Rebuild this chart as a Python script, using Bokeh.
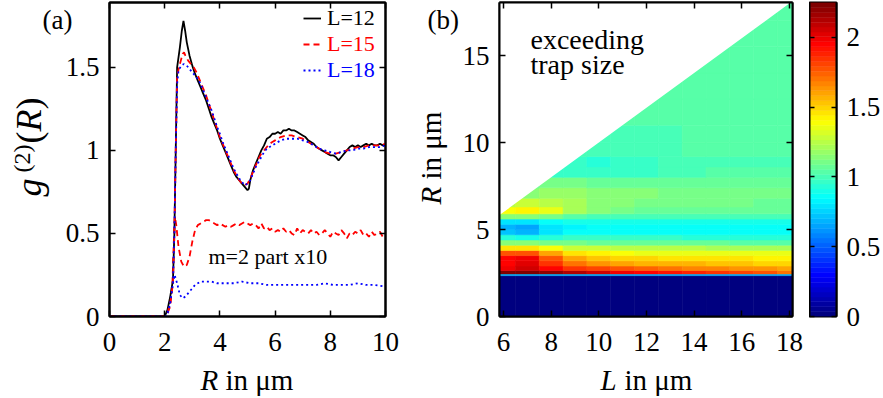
import numpy as np
from bokeh.plotting import figure
from bokeh.models import (Range1d, LinearAxis, FixedTicker, Label, Legend, LegendItem, GridBox,
                          LinearColorMapper, ColumnDataSource, NumeralTickFormatter,
                          CustomJSTickFormatter)
from bokeh.embed import file_html
from bokeh.resources import INLINE

SERIF = "Liberation Serif"

# ---------------- panel (a): g2(R) ----------------
CURVE_L12 = [(0, 0), (1, 0), (2.0, 0), (2.1, 0.04), (2.2, 0.12), (2.3, 0.22), (2.35, 0.5), (2.4, 1.0),
             (2.45, 1.5), (2.55, 1.62), (2.62, 1.72), (2.68, 1.78), (2.74, 1.72), (2.8, 1.65), (2.9, 1.57),
             (3.0, 1.51), (3.1, 1.46), (3.2, 1.42), (3.3, 1.38), (3.4, 1.34), (3.5, 1.30), (3.6, 1.25),
             (3.7, 1.20), (3.8, 1.16), (3.9, 1.12), (4.0, 1.07), (4.1, 1.03), (4.2, 0.99), (4.3, 0.95),
             (4.4, 0.91), (4.5, 0.87), (4.6, 0.84), (4.7, 0.82), (4.8, 0.80), (4.9, 0.78), (5.0, 0.76),
             (5.05, 0.77), (5.1, 0.82), (5.2, 0.88), (5.3, 0.92), (5.4, 0.96), (5.5, 1.0), (5.6, 1.03),
             (5.7, 1.07), (5.8, 1.08), (5.9, 1.10), (6.0, 1.10), (6.1, 1.11), (6.2, 1.10), (6.3, 1.12),
             (6.4, 1.12), (6.5, 1.13), (6.6, 1.12), (6.7, 1.12), (6.8, 1.11), (6.9, 1.10), (7.0, 1.09),
             (7.1, 1.08), (7.2, 1.06), (7.3, 1.05), (7.4, 1.04), (7.5, 1.02), (7.6, 1.01), (7.7, 1.0),
             (7.8, 0.99), (7.9, 0.98), (8.0, 0.97), (8.1, 0.97), (8.2, 0.96), (8.3, 0.94), (8.4, 0.96),
             (8.5, 0.98), (8.6, 1.0), (8.7, 1.02), (8.8, 1.03), (8.9, 1.02), (9.0, 1.03), (9.1, 1.02),
             (9.2, 1.03), (9.3, 1.04), (9.4, 1.03), (9.5, 1.04), (9.6, 1.03), (9.7, 1.03), (9.8, 1.04),
             (9.9, 1.03), (10, 1.035)]
CURVE_L15 = [(0, 0), (2.0, 0), (2.1, 0.02), (2.2, 0.08), (2.3, 0.2), (2.35, 0.5), (2.4, 1.0), (2.45, 1.45),
             (2.55, 1.52), (2.65, 1.58), (2.7, 1.59), (2.75, 1.57), (2.85, 1.54), (2.95, 1.52), (3.05, 1.50),
             (3.15, 1.47), (3.25, 1.43), (3.35, 1.39), (3.5, 1.33), (3.6, 1.28), (3.7, 1.23), (3.8, 1.18),
             (3.9, 1.13), (4.0, 1.08), (4.1, 1.04), (4.2, 1.0), (4.3, 0.96), (4.4, 0.92), (4.5, 0.88),
             (4.6, 0.85), (4.7, 0.82), (4.8, 0.80), (4.9, 0.79), (5.0, 0.80), (5.1, 0.83), (5.2, 0.87),
             (5.3, 0.91), (5.4, 0.95), (5.5, 0.98), (5.6, 1.0), (5.7, 1.02), (5.8, 1.04), (5.9, 1.05),
             (6.0, 1.06), (6.2, 1.08), (6.4, 1.09), (6.6, 1.09), (6.8, 1.08), (7.0, 1.07), (7.2, 1.05),
             (7.4, 1.03), (7.6, 1.01), (7.8, 0.99), (8.0, 0.98), (8.2, 0.98), (8.4, 0.99), (8.6, 1.0),
             (8.8, 1.01), (9.0, 1.02), (9.2, 1.02), (9.4, 1.03), (9.6, 1.03), (9.8, 1.03), (10, 1.04)]
CURVE_L18 = [(0, 0), (2.0, 0), (2.1, 0.02), (2.2, 0.08), (2.3, 0.2), (2.35, 0.5), (2.4, 1.0), (2.45, 1.4),
             (2.5, 1.48), (2.6, 1.51), (2.7, 1.52), (2.8, 1.51), (2.9, 1.49), (3.0, 1.47), (3.1, 1.45),
             (3.2, 1.43), (3.3, 1.40), (3.4, 1.36), (3.5, 1.32), (3.6, 1.28), (3.7, 1.24), (3.8, 1.19),
             (3.9, 1.14), (4.0, 1.10), (4.1, 1.05), (4.2, 1.01), (4.3, 0.97), (4.4, 0.93), (4.5, 0.89),
             (4.6, 0.86), (4.7, 0.83), (4.8, 0.81), (4.9, 0.79), (5.0, 0.80), (5.1, 0.82), (5.2, 0.86),
             (5.3, 0.90), (5.4, 0.93), (5.5, 0.96), (5.6, 0.99), (5.7, 1.01), (5.8, 1.02), (6.0, 1.04),
             (6.2, 1.06), (6.4, 1.07), (6.6, 1.07), (6.8, 1.07), (7.0, 1.06), (7.2, 1.05), (7.4, 1.03),
             (7.6, 1.01), (7.8, 1.0), (8.0, 0.99), (8.2, 0.98), (8.4, 0.99), (8.6, 1.0), (8.8, 1.0),
             (9.0, 1.01), (9.2, 1.01), (9.4, 1.02), (9.6, 1.02), (9.8, 1.02), (10, 1.03)]
# m=2 part, multiplied by 10
M2_L15 = [(0, 0), (2.0, 0), (2.1, 0.02), (2.2, 0.06), (2.28, 0.2), (2.33, 0.45), (2.37, 0.6), (2.42, 0.55),
          (2.5, 0.42), (2.6, 0.33), (2.7, 0.3), (2.8, 0.31), (2.9, 0.36), (3.0, 0.45), (3.1, 0.52), (3.2, 0.55),
          (3.3, 0.56), (3.4, 0.57), (3.5, 0.58), (3.6, 0.58), (3.7, 0.57), (3.8, 0.56), (3.9, 0.55), (4.0, 0.56),
          (4.1, 0.55), (4.2, 0.54), (4.3, 0.55), (4.4, 0.54), (4.5, 0.55), (4.6, 0.56), (4.7, 0.55), (4.8, 0.56),
          (4.9, 0.57), (5.0, 0.56), (5.1, 0.55), (5.2, 0.56), (5.3, 0.55), (5.4, 0.53), (5.5, 0.56), (5.6, 0.53),
          (5.7, 0.54), (5.8, 0.52), (5.9, 0.53), (6.0, 0.51), (6.1, 0.52), (6.2, 0.51), (6.3, 0.53), (6.4, 0.51),
          (6.5, 0.52), (6.6, 0.50), (6.7, 0.49), (6.8, 0.53), (6.9, 0.50), (7.0, 0.52), (7.1, 0.51), (7.2, 0.50),
          (7.3, 0.52), (7.4, 0.50), (7.5, 0.51), (7.6, 0.49), (7.7, 0.50), (7.8, 0.52), (7.9, 0.50), (8.0, 0.48),
          (8.1, 0.51), (8.2, 0.50), (8.3, 0.49), (8.4, 0.52), (8.5, 0.50), (8.6, 0.47), (8.7, 0.50), (8.8, 0.49),
          (8.9, 0.51), (9.0, 0.50), (9.1, 0.52), (9.2, 0.49), (9.3, 0.50), (9.4, 0.48), (9.5, 0.51), (9.6, 0.49),
          (9.7, 0.50), (9.8, 0.51), (9.9, 0.48), (10, 0.49)]
M2_L18 = [(0, 0), (2.0, 0), (2.1, 0.01), (2.15, 0.04), (2.22, 0.12), (2.3, 0.2), (2.36, 0.25), (2.45, 0.2),
          (2.55, 0.13), (2.65, 0.11), (2.75, 0.12), (2.9, 0.15), (3.1, 0.19), (3.3, 0.21), (3.5, 0.21),
          (3.7, 0.21), (3.9, 0.20), (4.2, 0.20), (4.5, 0.20), (4.8, 0.21), (5.1, 0.20), (5.4, 0.20),
          (5.7, 0.19), (6.0, 0.19), (6.3, 0.19), (6.6, 0.19), (6.9, 0.19), (7.2, 0.19), (7.5, 0.19),
          (7.8, 0.20), (8.1, 0.19), (8.4, 0.19), (8.7, 0.19), (9.0, 0.20), (9.3, 0.19), (9.6, 0.19), (10, 0.18)]

A_XTICKS = [0, 2, 4, 6, 8, 10]
A_YTICKS = [0, 0.5, 1, 1.5]
LEGEND_LABELS = ["L=12", "L=15", "L=18"]

# ---------------- panel (b): heat map g2(L, R) ----------------
HM_L = [6, 7, 8, 9, 10, 11, 12, 13, 14, 15, 16, 17, 18]
HM_R_EDGES = [0, 2.35, 2.45, 2.65, 2.9, 3.2, 3.5, 3.8, 4.1, 4.4, 4.7, 5.0, 5.3, 5.6, 5.9, 6.3, 6.8,
              7.4, 8.0, 8.6, 9.2, 10, 11, 12.5, 14, 15.5, 17, 18.1]
HM_VALUES = [
    [0, 0, 0, 0, 0, 0, 0, 0, 0, 0, 0, 0, 0],
    [0.7, 0.7, 0.7, 0.7, 0.7, 0.7, 0.7, 0.7, 0.7, 0.7, 0.7, 0.7, 0.7],
    [2.22, 2.22, 2.18, 2.12, 2.06, 2.0, 1.96, 1.92, 1.88, 1.84, 1.8, 1.76, 1.72],
    [2.0, 2.05, 1.95, 1.85, 1.8, 1.76, 1.73, 1.7, 1.68, 1.66, 1.64, 1.62, 1.6],
    [1.95, 2.02, 1.86, 1.72, 1.64, 1.6, 1.58, 1.56, 1.55, 1.54, 1.52, 1.51, 1.5],
    [1.95, 1.98, 1.76, 1.6, 1.53, 1.5, 1.48, 1.47, 1.46, 1.45, 1.45, 1.44, 1.44],
    [1.78, 1.78, 1.6, 1.46, 1.41, 1.39, 1.37, 1.36, 1.36, 1.35, 1.35, 1.35, 1.35],
    [1.45, 1.45, 1.38, 1.3, 1.27, 1.26, 1.25, 1.24, 1.24, 1.23, 1.23, 1.22, 1.22],
    [1.15, 1.14, 1.12, 1.1, 1.08, 1.08, 1.07, 1.07, 1.06, 1.06, 1.05, 1.05, 1.05],
    [0.92, 0.9, 0.94, 0.95, 0.95, 0.95, 0.95, 0.95, 0.94, 0.94, 0.94, 0.94, 0.94],
    [0.72, 0.7, 0.8, 0.85, 0.86, 0.87, 0.87, 0.87, 0.87, 0.87, 0.87, 0.87, 0.87],
    [0.68, 0.66, 0.78, 0.84, 0.85, 0.85, 0.85, 0.85, 0.86, 0.86, 0.86, 0.86, 0.86],
    [0.8, 0.78, 0.86, 0.9, 0.9, 0.9, 0.9, 0.9, 0.91, 0.91, 0.91, 0.91, 0.91],
    [1.15, 1.15, 1.1, 1.02, 1.0, 1.0, 1.0, 1.0, 1.0, 1.0, 1.0, 1.0, 1.0],
    [1.38, 1.42, 1.36, 1.22, 1.13, 1.1, 1.08, 1.07, 1.06, 1.06, 1.06, 1.06, 1.06],
    [1.25, 1.28, 1.26, 1.2, 1.15, 1.13, 1.12, 1.1, 1.1, 1.09, 1.09, 1.08, 1.08],
    [1.15, 1.16, 1.18, 1.18, 1.15, 1.14, 1.13, 1.12, 1.11, 1.1, 1.1, 1.09, 1.09],
    [1.08, 1.08, 1.1, 1.1, 1.08, 1.08, 1.08, 1.07, 1.07, 1.06, 1.06, 1.06, 1.06],
    [1.0, 1.0, 0.98, 0.95, 0.95, 0.96, 0.98, 1.0, 1.01, 1.02, 1.02, 1.02, 1.02],
    [1.0, 1.0, 0.97, 0.95, 0.94, 0.95, 0.97, 0.99, 1.0, 1.01, 1.01, 1.01, 1.01],
    [1.02, 1.02, 1.0, 0.99, 0.99, 0.99, 1.0, 1.01, 1.02, 1.02, 1.02, 1.02, 1.02],
    [1.03, 1.03, 1.03, 1.02, 1.01, 1.0, 1.0, 1.01, 1.02, 1.03, 1.03, 1.03, 1.03],
    [1.04, 1.04, 1.04, 1.04, 1.03, 1.02, 1.02, 1.02, 1.03, 1.04, 1.04, 1.04, 1.04],
    [1.04, 1.04, 1.04, 1.04, 1.04, 1.04, 1.03, 1.03, 1.03, 1.04, 1.05, 1.05, 1.05],
    [1.04, 1.04, 1.04, 1.04, 1.04, 1.04, 1.04, 1.04, 1.04, 1.05, 1.05, 1.05, 1.05],
    [1.04, 1.04, 1.04, 1.04, 1.04, 1.04, 1.04, 1.04, 1.04, 1.04, 1.04, 1.04, 1.04],
    [1.04, 1.04, 1.04, 1.04, 1.04, 1.04, 1.04, 1.04, 1.04, 1.04, 1.04, 1.04, 1.04],
]
B_XTICKS = [6, 8, 10, 12, 14, 16, 18]
B_YTICKS = [0, 5, 10, 15]
CB_TICKS = [0, 0.5, 1, 1.5, 2]
CB_LOW, CB_HIGH = 0, 2.25

W, H = 883, 398


def jet(n):
    t = np.linspace(0, 1, n)
    r = np.clip(1.5 - np.abs(4 * t - 3), 0, 1)
    g = np.clip(1.5 - np.abs(4 * t - 2), 0, 1)
    b = np.clip(1.5 - np.abs(4 * t - 1), 0, 1)
    return ["#%02x%02x%02x" % (int(round(255 * a)), int(round(255 * bb)), int(round(255 * c)))
            for a, bb, c in zip(r, g, b)]


def style_axis(ax, ticks, show_labels=True, standoff=8, tick_in=6):
    ax.ticker = FixedTicker(ticks=ticks)
    ax.minor_tick_line_color = None
    ax.major_tick_in = tick_in
    ax.major_tick_out = 0
    ax.major_tick_line_width = 1.5
    ax.major_tick_line_color = "black"
    ax.axis_line_width = 2
    ax.axis_line_color = "black"
    ax.major_label_text_font = SERIF
    ax.major_label_text_color = "black"
    ax.major_label_standoff = standoff
    if show_labels:
        ax.formatter = NumeralTickFormatter(format="0.[0]")
        ax.major_label_text_font_size = "27px"
    else:
        ax.formatter = CustomJSTickFormatter(code="return ''")
        ax.major_label_text_font_size = "1px"


def box_axes(p, xticks, yticks):
    style_axis(p.xaxis[0], xticks, standoff=16)
    style_axis(p.yaxis[0], yticks, standoff=10)
    top = LinearAxis()
    right = LinearAxis()
    style_axis(top, xticks, False, 0)
    style_axis(right, yticks, False, 0)
    p.add_layout(top, "above")
    p.add_layout(right, "right")
    p.xgrid.visible = False
    p.ygrid.visible = False
    p.outline_line_color = "black"
    p.outline_line_width = 2


def text(p, s, x, y, size, italic=False, angle=0.0, dx=0, dy=0):
    lab = Label(x=x, y=y, x_offset=dx, y_offset=dy, text=s, text_font=SERIF,
                text_font_size=size, text_font_style="italic" if italic else "normal",
                text_baseline="alphabetic", text_align="left", angle=angle, text_color="black")
    p.add_layout(lab)


# ================= figure (a) =================
p1 = figure(frame_width=276, frame_height=314, min_border_left=109, min_border_right=14,
            min_border_top=2, min_border_bottom=82, x_range=Range1d(0, 10), y_range=Range1d(0, 1.89),
            output_backend="svg", toolbar_location=None)
box_axes(p1, A_XTICKS, A_YTICKS)


def xy(c):
    return [a for a, _ in c], [b for _, b in c]


x, y = xy(M2_L15)
p1.line(x, y, line_color="red", line_width=1.8, line_dash="6 4")
x, y = xy(M2_L18)
p1.line(x, y, line_color="blue", line_width=1.8, line_dash="2 3")
x, y = xy(CURVE_L12)
r12 = p1.line(x, y, line_color="black", line_width=1.8)
x, y = xy(CURVE_L15)
r15 = p1.line(x, y, line_color="red", line_width=1.8, line_dash="6 4")
x, y = xy(CURVE_L18)
r18 = p1.line(x, y, line_color="blue", line_width=1.8, line_dash="2 3")

for rend, lab, col, ly in [(r12, LEGEND_LABELS[0], "black", 285), (r15, LEGEND_LABELS[1], "red", 259),
                           (r18, LEGEND_LABELS[2], "blue", 233)]:
    leg = Legend(items=[LegendItem(label=lab, renderers=[rend])], location=(194, ly),
                 border_line_color=None, background_fill_alpha=0, padding=0, margin=0, spacing=0,
                 glyph_width=18, glyph_height=20, label_standoff=6, label_height=20,
                 label_text_font=SERIF, label_text_font_size="22px", label_text_color=col)
    p1.add_layout(leg)

text(p1, "m=2 part x10", 0, 0, "22px", dx=99, dy=60)

# ================= figure (b) =================
p2 = figure(frame_width=293, frame_height=314, min_border_left=100, min_border_right=17,
            min_border_top=2, min_border_bottom=82, x_range=Range1d(5.83, 18.13),
            y_range=Range1d(0, 18.05), output_backend="svg", toolbar_location=None)
box_axes(p2, B_XTICKS, B_YTICKS)

mapper = LinearColorMapper(palette=jet(64), low=CB_LOW, high=CB_HIGH)
left, right, bottom, top, vals = [], [], [], [], []
half = (HM_L[1] - HM_L[0]) / 2
for i, rowv in enumerate(HM_VALUES):
    for j, v in enumerate(rowv):
        left.append(HM_L[j] - half)
        right.append(HM_L[j] + half)
        bottom.append(HM_R_EDGES[i])
        top.append(HM_R_EDGES[i + 1])
        vals.append(v)
src = ColumnDataSource(dict(left=left, right=right, bottom=bottom, top=top, v=vals))
p2.quad(left="left", right="right", bottom="bottom", top="top", source=src,
        fill_color={"field": "v", "transform": mapper},
        line_color={"field": "v", "transform": mapper}, line_width=0.6)

# region R > L: exceeding trap size
x0, x1 = p2.x_range.start, p2.x_range.end
y1 = p2.y_range.end
p2.patch([x0, x0, x1 + 1, x1 + 1], [x0, y1 + 1, y1 + 1, x1 + 1], fill_color="white", line_color=None)

text(p2, "exceeding", x0, y1, "28px", dx=31, dy=-37)
text(p2, "trap size", x0, y1, "28px", dx=31, dy=-62)

# ================= colour scale (drawn as its own narrow plot) =================
p3 = figure(frame_width=27, frame_height=314, min_border_left=0, min_border_right=47,
            min_border_top=2, min_border_bottom=82, x_range=Range1d(0, 1),
            y_range=Range1d(CB_LOW, CB_HIGH), x_axis_type=None, output_backend="svg",
            toolbar_location=None)
pal = mapper.palette
step = (CB_HIGH - CB_LOW) / len(pal)
p3.quad(left=0, right=1, bottom=[CB_LOW + i * step for i in range(len(pal))],
        top=[CB_LOW + (i + 1) * step for i in range(len(pal))], fill_color=list(pal),
        line_color=list(pal), line_width=0.5)
style_axis(p3.yaxis[0], CB_TICKS, False, 0, tick_in=5)
cbax = LinearAxis()
style_axis(cbax, CB_TICKS, True, 10, tick_in=5)
p3.add_layout(cbax, "right")
p3.ygrid.visible = False
p3.outline_line_color = "black"
p3.outline_line_width = 2

# ================= overlay for texts outside the plot frames =================
ov = figure(width=W, height=H, x_range=Range1d(0, W), y_range=Range1d(0, H), min_border=0,
            x_axis_type=None, y_axis_type=None, toolbar_location=None, output_backend="svg",
            background_fill_color=None, border_fill_color=None, outline_line_color=None,
            frame_align=False)
ov.title.visible = False
ov.xgrid.visible = False
ov.ygrid.visible = False
up = np.pi / 2
text(ov, "(a)", 42, H - 19, "27px")
text(ov, "(b)", 427, H - 19, "27px")
text(ov, "R", 200, H - 379, "29px", italic=True)
text(ov, "in \u03bcm", 225, H - 379, "29px")
text(ov, "L", 600, H - 379, "29px", italic=True)
text(ov, "in \u03bcm", 624, H - 379, "29px")
text(ov, "R", 430, H - 204, "29px", italic=True, angle=up)
text(ov, "in \u03bcm", 430, H - 179, "29px", angle=up)
text(ov, "g", 28, H - 196, "36px", italic=True, angle=up)
text(ov, "(2)", 21, H - 172, "24px", angle=up)
text(ov, "(", 28, H - 143, "36px", angle=up)
text(ov, "R", 28, H - 131, "36px", italic=True, angle=up)
text(ov, ")", 28, H - 109, "36px", angle=up)

layout = GridBox(children=[(p1, 0, 0), (p2, 0, 1), (p3, 0, 2), (ov, 0, 0, 1, 3)])
open("out.html", "w").write(file_html(layout, INLINE))
